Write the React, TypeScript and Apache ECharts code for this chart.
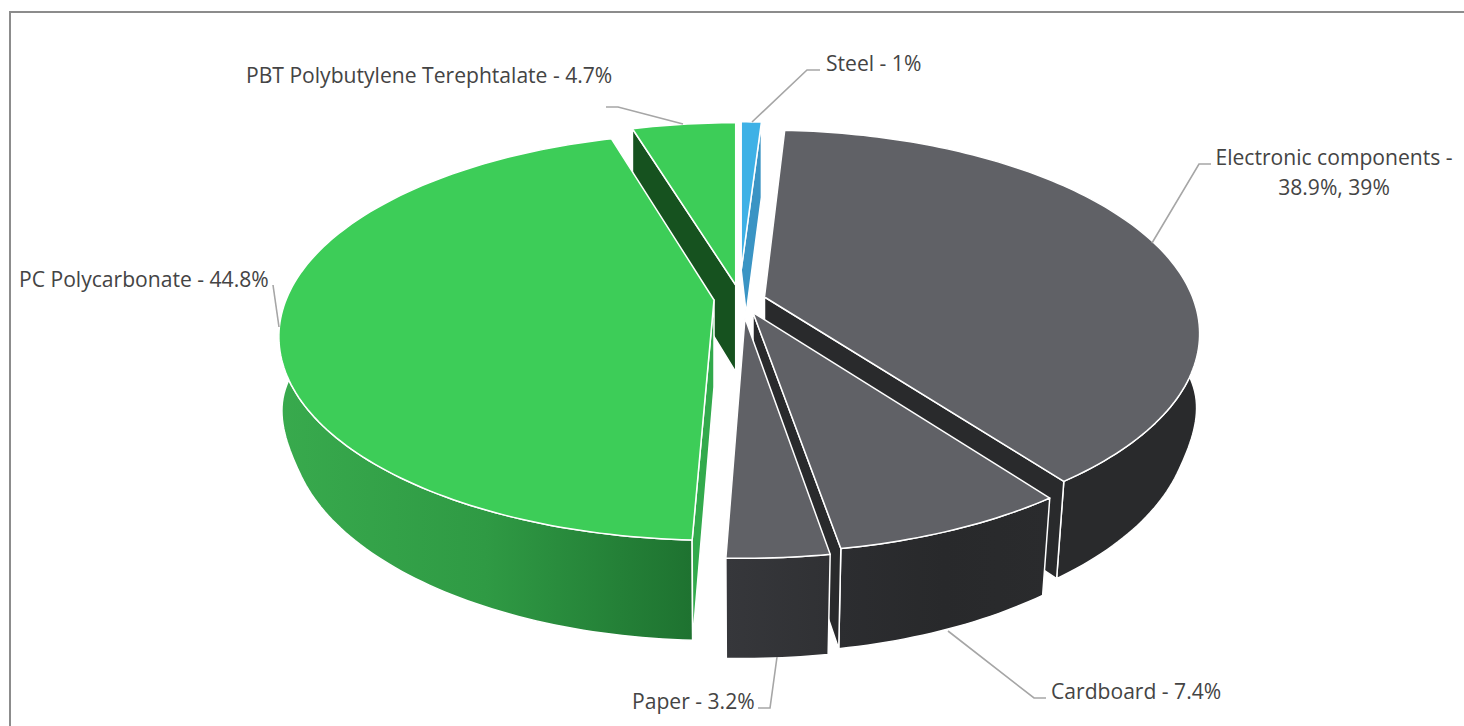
import React, { useEffect, useRef } from "react";
import * as echarts from "echarts";

const categories = ["Steel", "Electronic components", "Cardboard", "Paper", "PC Polycarbonate", "PBT Polybutylene Terephtalate"];
const shares = [1, 38.9, 7.4, 3.2, 44.8, 4.7];
const labelTexts = [
  "Steel - 1%",
  "Electronic components -\n38.9%, 39%",
  "Cardboard - 7.4%",
  "Paper - 3.2%",
  "PC Polycarbonate - 44.8%",
  "PBT Polybutylene Terephtalate - 4.7%",
];
// back-to-front painting order of the slices
const paintOrder = [5, 0, 1, 2, 3, 4];

// position of each exploded slice's tip, how far its rim reaches, and a small turn in degrees
const sliceLayout = [
  { ax: 741.2, ay: 270, rs: 0.87, rot: 0, apexDrop: 43, apexShift: 5 },
  { ax: 764.5, ay: 297, rs: 1, rot: -0.4 },
  { ax: 753, ay: 312.5, rs: 1, rot: 0 },
  { ax: 745, ay: 318, rs: 1, rot: 0.3 },
  { ax: 714, ay: 300, rs: 1, rot: 0.6 },
  { ax: 735.7, ay: 285, rs: 0.967, rot: 0 },
];

const RX = 428;
const RY = 197;
const K = 0.18;
const H = 87;
const BOTTOM_SHRINK = 0.024;

const grad = (stops: string[]) =>
  new echarts.graphic.LinearGradient(0, 0, 1, 0, stops.map((color, i) => ({ offset: i / (stops.length - 1), color })));

const sliceColors = [
  { top: "#3eb1e6", wall: "#3a94c4", cut0: "#3a94c4", cut1: "#3a94c4" },
  { top: "#606166", wall: "#292a2c", cut0: "#292a2c", cut1: "#292a2c" },
  { top: "#606166", wall: grad(["#2c2d30", "#28292b", "#2a2b2d"]), cut0: "#292a2c", cut1: "#292a2c" },
  { top: "#606166", wall: grad(["#36373b", "#303134"]), cut0: "#292a2c", cut1: "#292a2c" },
  { top: "#3dcd58", wall: grad(["#38aa4d", "#2f9a44", "#1e7230"]), cut0: "#32aa4c", cut1: "#16521f" },
  { top: "#3dcd58", wall: "#16521f", cut0: "#16521f", cut1: "#16521f" },
];

// leader lines: from the slice to the label
const leaders = [
  [[752, 122], [807, 70], [820, 70]],
  [[1152, 243], [1199, 164], [1211, 164]],
  [[948, 631], [1034, 698], [1046, 698]],
  [[777, 657], [770, 708], [758, 708]],
  [[279, 327], [273, 285]],
  [[683, 124], [618, 107], [606, 107]],
];
const labelSpots = [
  { x: 826, y: 62, align: "left" },
  { x: 1334, y: 171, align: "center" },
  { x: 1051, y: 690, align: "left" },
  { x: 632, y: 700, align: "left" },
  { x: 19, y: 278, align: "left" },
  { x: 246, y: 74, align: "left" },
];

const total = shares.reduce((a, b) => a + b, 0);
const FONT = "'Open Sans', sans-serif";

function project(i: number, theta: number, r: number, level: number): number[] {
  const l: any = sliceLayout[i];
  const rr = r * l.rs;
  const c = Math.cos(theta);
  const z = c * rr;
  const s = 1 / (1 + K * z);
  const x = Math.sin(theta) * rr * RX * s;
  const y = -z * RY * s;
  if (!level) return [l.ax + x, l.ay + y];
  if (r === 0 && l.apexDrop != null) return [l.ax + (l.apexShift || 0), l.ay + l.apexDrop];
  const t = Math.min(1, Math.max(0, -c / 0.4));
  const f = 1 - BOTTOM_SHRINK * t * t * (3 - 2 * t);
  return [l.ax + x * f, l.ay + y * f + H * s];
}

function arc(i: number, a0: number, a1: number, level: number): number[][] {
  const n = Math.max(2, Math.ceil(Math.abs(a1 - a0) / 0.02));
  const pts: number[][] = [];
  for (let k = 0; k <= n; k++) pts.push(project(i, a0 + ((a1 - a0) * k) / n, 1, level));
  return pts;
}

function renderSlice(_params: any, api: any) {
  const i = api.value(1);
  const value = api.value(0);
  const before = shares.slice(0, i).reduce((a, b) => a + b, 0);
  const turn = (sliceLayout[i].rot * Math.PI) / 180;
  const a0 = (before / total) * Math.PI * 2 + turn;
  const a1 = ((before + value) / total) * Math.PI * 2 + turn;
  const c = sliceColors[i];
  const edge = { stroke: "#ffffff", lineWidth: 1.5, lineJoin: "round" };
  const poly = (points: number[][], fill: any) => ({
    type: "polygon",
    shape: { points },
    style: { fill, ...edge },
  });
  const tipT = project(i, 0, 0, 0);
  const tipB = project(i, 0, 0, 1);
  const topRim = arc(i, a0, a1, 0);
  const botRim = arc(i, a0, a1, 1);
  const cut = (a: number, fill: any) =>
    poly([tipT, project(i, a, 1, 0), project(i, a, 1, 1), tipB], fill);
  const children: any[] = [];
  children.push(poly([...topRim, ...botRim.slice().reverse()], c.wall));
  // a cut face shows only when it turns towards the viewer
  if (Math.sin(a0) < 0) children.push(cut(a0, c.cut0));
  if (Math.sin(a1) > 0) children.push(cut(a1, c.cut1));
  children.push(poly([tipT, ...topRim], c.top));
  return { type: "group", children };
}

export default function App() {
  const ref = useRef<HTMLDivElement>(null);
  useEffect(() => {
    const chart = echarts.init(ref.current!, null, { renderer: "svg" });
    const texts = labelTexts.map((t, i) => ({
      type: "text",
      x: labelSpots[i].x,
      y: labelSpots[i].y,
      style: {
        text: t,
        fill: "#444444",
        font: `21.1px ${FONT}`,
        lineHeight: 30,
        align: labelSpots[i].align,
        verticalAlign: "middle",
      },
      z: 10,
    }));
    const lines = leaders.map((points) => ({
      type: "polyline",
      shape: { points },
      style: { stroke: "#a6a6a6", lineWidth: 1.6, fill: "none" },
      z: 9,
    }));
    chart.setOption({
      animation: false,
      backgroundColor: "#ffffff",
      graphic: [
        {
          type: "rect",
          shape: { x: 10, y: 12, width: 1470, height: 730 },
          style: { fill: "none", stroke: "#8c8c8c", lineWidth: 2 },
          silent: true,
          z: 0,
        },
        ...lines,
        ...texts,
      ],
      series: [
        {
          type: "custom",
          coordinateSystem: "none",
          renderItem: renderSlice,
          data: paintOrder.map((i) => ({ name: categories[i], value: [shares[i], i] })),
          encode: { value: 0 },
          silent: true,
          z: 2,
        },
      ],
    });
    return () => chart.dispose();
  }, []);
  return <div ref={ref} style={{ position: "fixed", left: 0, top: 0, width: 1464, height: 726 }} />;
}
